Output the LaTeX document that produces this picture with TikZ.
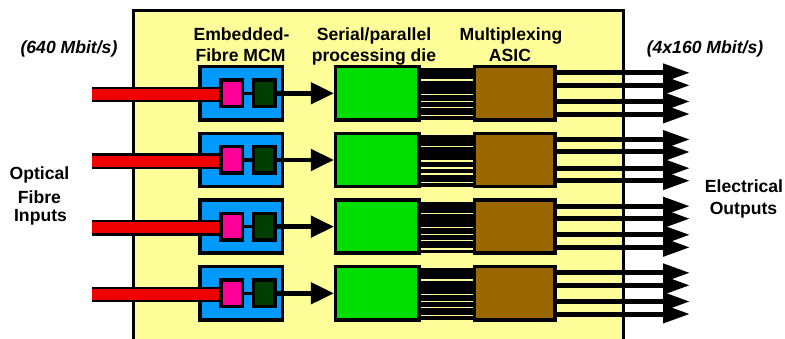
\documentclass[tikz,border=0pt]{standalone}
\usepackage{fontspec}
\setmainfont{Liberation Sans}
\usetikzlibrary{arrows.meta,calc}
\definecolor{panelc}{HTML}{FFFF99}
\definecolor{mcmc}{HTML}{0099FF}
\definecolor{pinkc}{HTML}{FF0099}
\definecolor{dgc}{HTML}{003F00}
\definecolor{grc}{HTML}{00DD00}
\definecolor{brc}{HTML}{996600}
\definecolor{redc}{HTML}{EE0000}
\begin{document}
\begin{tikzpicture}[x=1pt,y=-1pt,
  box/.style={draw=black, line width=3.5pt, inner sep=0pt},
  mcmbox/.style={box, fill=mcmc, minimum width=82.2pt, minimum height=53.2pt},
  pinkbox/.style={box, fill=pinkc, minimum width=21.2pt, minimum height=26.5pt},
  dgbox/.style={box, fill=dgc, minimum width=21.5pt, minimum height=26.5pt},
  grbox/.style={box, fill=grc, minimum width=83.2pt, minimum height=53.2pt},
  brbox/.style={box, fill=brc, minimum width=80.5pt, minimum height=53.2pt},
  fibreout/.style={line width=15.6pt, black},
  fibrein/.style={line width=11pt, redc},
  link/.style={line width=3.5pt, black},
  inarrow/.style={line width=4.5pt, black, -{Triangle[length=23pt,width=21pt]}},
  outarrow/.style={line width=5pt, black, -{Triangle[length=27pt,width=17.5pt]}},
  busgap/.style={line width=1.3pt, panelc},
  lbl/.style={font=\fontsize{17.6}{21}\selectfont\bfseries, inner sep=0pt, anchor=base},
  ilbl/.style={font=\fontsize{17.6}{21}\selectfont\bfseries\itshape, inner sep=0pt, anchor=base}
]
\useasboundingbox (0,0) rectangle (785,338);
\begin{scope}
  \clip (0,0) rectangle (785,338);
  \draw[line width=3.3pt, fill=panelc] (133.5,10.7) rectangle (623.3,360);
\end{scope}

\foreach \i in {0,1,2,3}{
  \pgfmathsetmacro\c{93.3+66.67*\i}
  % parallel bus
  \fill[black] (420,\c-25) rectangle (473.5,\c+26.7);
  \foreach \g in {-13.3,1,8,14,22.5}{
    \draw[busgap] (420,\c+\g) -- (473.5,\c+\g);
  }
  % boxes
  \node[mcmbox] (mcm\i) at (241.2,\c) {};
  % optical fibre, over the MCM
  \coordinate (fin\i) at (91.7,\c+1.2);
  \coordinate (fend\i) at (222,\c+1.2);
  \draw[fibreout] (fin\i) -- (fend\i);
  \draw[fibrein] (fin\i) -- (fend\i);
  \node[pinkbox] (pk\i) at (231.7,\c) {};
  \node[dgbox] (dg\i) at (264.2,\c) {};
  \node[grbox] (gr\i) at (377.3,\c) {};
  \node[brbox] (mx\i) at (514.7,\c) {};
  \draw[link] (pk\i.east) -- (dg\i.west);
  \draw[inarrow] (dg\i.east) -- (gr\i.west);
  % electrical outputs
  \foreach \o [count=\j] in {-20.5,-8,8.2,20.7}{
    \coordinate (t\i\j) at (690,\c+\o);
    \draw[outarrow] ($(mx\i.east)+(0,\o)$) -- (t\i\j);
  }
}

% labels
\node[ilbl] (rin) at (69,53.5) {(640 Mbit/s)};
\node[ilbl] (rout) at (705,53.5) {(4x160 Mbit/s)};
\node[lbl] (ha1) at (241.5,40) {Embedded-};
\node[lbl] (ha2) at (240.5,61) {Fibre MCM};
\node[lbl] (hb1) at (374,40) {Serial/parallel};
\node[lbl] (hb2) at (374,61) {processing die};
\node[lbl] (hc1) at (511,40) {Multiplexing};
\node[lbl] (hc2) at (510,61) {ASIC};
\node[lbl] (la1) at (39.5,179.3) {Optical};
\node[lbl] (la2) at (39.5,203.3) {Fibre};
\node[lbl] (la3) at (40.5,221.7) {Inputs};
\node[lbl] (lb1) at (744,192) {Electrical};
\node[lbl] (lb2) at (743.5,214) {Outputs};
\end{tikzpicture}
\end{document}
